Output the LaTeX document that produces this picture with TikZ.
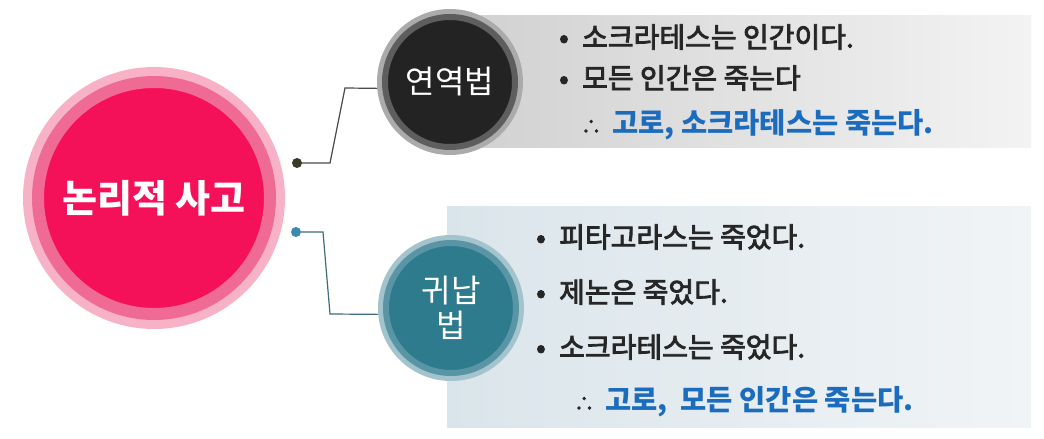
\documentclass[tikz,border=0pt]{standalone}
\usepackage{fontspec}
\setmainfont{Noto Sans CJK KR}
\newfontfamily\itemfont[FakeBold=3]{Noto Sans CJK KR}
\usepackage{xcolor}
\usepackage{tikz}
\usetikzlibrary{positioning}
\definecolor{pinkCore}{HTML}{F5105A}
\definecolor{pinkMid}{HTML}{EF6A95}
\definecolor{pinkHalo}{HTML}{F8B2C8}
\definecolor{darkCore}{HTML}{232323}
\definecolor{darkMid}{HTML}{5E5E5E}
\definecolor{darkHalo}{HTML}{ABABAB}
\definecolor{tealCore}{HTML}{2E7B8E}
\definecolor{tealMid}{HTML}{5A95A6}
\definecolor{tealHalo}{HTML}{A3C3CD}
\definecolor{boxGreyL}{HTML}{D2D2D2}
\definecolor{boxGreyR}{HTML}{F3F3F3}
\definecolor{boxBlueL}{HTML}{DAE5EB}
\definecolor{boxBlueR}{HTML}{F1F4F6}
\definecolor{dotOlive}{HTML}{3A3A26}
\definecolor{dotBlue}{HTML}{3C8AB0}
\definecolor{lineDark}{HTML}{4A4A4A}
\definecolor{lineTeal}{HTML}{3E6C7C}
\definecolor{textDark}{HTML}{262626}
\definecolor{thusBlue}{HTML}{1C6CBD}
\newcommand{\itemdot}{\makebox[23pt][l]{•}}
\newcommand{\thus}{\makebox[31pt][l]{\fontsize{20}{24}\selectfont ∴}}
\tikzset{
  hub/.style={circle,fill=pinkCore,draw=pinkMid,line width=12pt,
    minimum size=232pt,inner sep=0pt,
    preaction={draw=pinkHalo,line width=30pt},
    text=white,font=\fontsize{38}{44}\selectfont\bfseries},
  method/.style={circle,line width=6pt,minimum size=130pt,inner sep=0pt,
    outer sep=8pt,text=white,align=center,
    font=\fontsize{32}{35}\selectfont},
  dedcircle/.style={method,fill=darkCore,draw=darkMid,
    preaction={draw=darkHalo,line width=16pt}},
  indcircle/.style={method,fill=tealCore,draw=tealMid,
    preaction={draw=tealHalo,line width=16pt}},
  greybox/.style={rectangle,anchor=north west,inner sep=0pt,
    left color=boxGreyL,right color=boxGreyR},
  bluebox/.style={rectangle,anchor=north west,inner sep=0pt,
    left color=boxBlueL,right color=boxBlueR},
  tip/.style={circle,inner sep=0pt,minimum size=10pt},
  link/.style={line width=1.2pt},
  itemtext/.style={anchor=west,inner sep=0pt,text=textDark,
    font=\itemfont\fontsize{28}{32}\selectfont},
  concl/.style={font=\bfseries,text=thusBlue}
}

\begin{document}
\begin{tikzpicture}[x=1pt,y=-1pt]
\useasboundingbox (0,0) rectangle (1044,439);

% text panels
\node[greybox, minimum width=551pt, minimum height=132pt] (dedBox) at (480,15) {};
\node[bluebox, minimum width=584pt, minimum height=221pt] (indBox) at (447,206) {};

% circles
\node[hub] (logic) at (154,198) {논리적 사고};
\node[dedcircle] (ded) at (450,82) {연역법};
\node[indcircle] (ind) at (451,308) {귀납\\법};

% connectors
\node[tip, fill=dotOlive] (dedDot) at (297,163) {};
\node[tip, fill=dotBlue] (indDot) at (296,232) {};
\draw[link, lineDark] (dedDot) -- ++(33,0) -- ++(15,-75) -- (ded.185);
\draw[link, lineTeal] (indDot) -- ++(27,0) -- ++(7,82) -- (ind.185);

% deduction
\node[itemtext] (ded1) at (559,37) {\itemdot 소크라테스는 인간이다.};
\node[itemtext] (ded2) at (559,78) {\itemdot 모든 인간은 죽는다};
\node[itemtext] (ded3) at (581,125) {\thus{\color{thusBlue}\normalfont\fontsize{28.5}{32}\selectfont\bfseries 고로, 소크라테스는 죽는다.}};

% induction
\node[itemtext] (ind1) at (536,237) {\itemdot 피타고라스는 죽었다.};
\node[itemtext] (ind2) at (536,292) {\itemdot 제논은 죽었다.};
\node[itemtext] (ind3) at (536,347) {\itemdot 소크라테스는 죽었다.};
\node[itemtext] (ind4) at (574,402) {\thus{\color{thusBlue}\normalfont\fontsize{28.5}{32}\selectfont\bfseries 고로,\ \ 모든 인간은 죽는다.}};
\end{tikzpicture}
\end{document}
